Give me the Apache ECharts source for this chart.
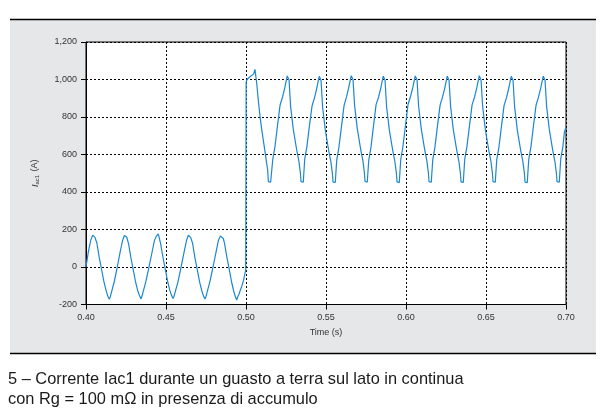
<!DOCTYPE html>
<html>
<head>
<meta charset="utf-8">
<script src="https://cdn.jsdelivr.net/npm/echarts@6/dist/echarts.min.js"></script>
<style>html,body{margin:0;padding:0;background:#fff}#c{width:606px;height:414px}</style>
</head>
<body>
<div id="c"></div>
<script>
// Tick settings
var xTicks = [0.40, 0.45, 0.50, 0.55, 0.60, 0.65, 0.70];
var yTicks = [-200, 0, 200, 400, 600, 800, 1000, 1200];

// Pre-fault current Iac1 (t [s], A)
var preFault = [
[0.4000,0],[0.4015,82],[0.4030,144],[0.4042,170],[0.4050,180],[0.4056,158],[0.4062,150],[0.4068,128],[0.4083,50],[0.4098,-16],[0.4112,-78],[0.4125,-123],[0.4136,-155],[0.4142,-160],[0.4146,-172],[0.4152,-158],[0.4160,-148],[0.4176,-80],[0.4192,-16],
[0.4213,78],[0.4228,140],[0.4240,168],[0.4248,178],[0.4254,160],[0.4260,152],[0.4266,125],[0.4281,48],[0.4296,-18],[0.4310,-80],[0.4323,-125],[0.4334,-152],[0.4340,-162],[0.4344,-170],[0.4350,-155],[0.4358,-146],[0.4374,-78],[0.4390,-15],
[0.4413,80],[0.4428,142],[0.4440,165],[0.4444,175],[0.4448,168],[0.4452,177],[0.4458,155],[0.4466,126],[0.4481,52],[0.4496,-14],[0.4510,-76],[0.4523,-122],[0.4534,-150],[0.4540,-158],[0.4544,-168],[0.4550,-156],[0.4558,-147],[0.4574,-82],[0.4590,-18],
[0.4613,79],[0.4628,141],[0.4640,169],[0.4648,179],[0.4654,158],[0.4660,150],[0.4666,127],[0.4681,49],[0.4696,-17],[0.4710,-79],[0.4723,-124],[0.4734,-154],[0.4740,-160],[0.4744,-171],[0.4750,-157],[0.4758,-148],[0.4774,-79],[0.4790,-16],
[0.4813,81],[0.4828,143],[0.4840,166],[0.4844,176],[0.4848,165],[0.4852,174],[0.4858,152],[0.4866,126],[0.4881,50],[0.4896,-15],[0.4910,-80],[0.4923,-128],[0.4934,-160],[0.4938,-170],[0.4942,-176],[0.4948,-160],[0.4956,-145],[0.4966,-120],[0.4973,-105],[0.4985,-70],[0.4994,-32],[0.4998,-20]
];

// Post-fault current Iac1 (t [s], A)
var postFault = [
[0.5001,985],[0.5006,1000],[0.5014,1006],[0.5025,1015],[0.5036,1024],[0.5048,1030],[0.5056,1054],[0.5061,1020],[0.5067,980],[0.5078,880],[0.5088,802],[0.5098,735],[0.5108,677],[0.5118,620],[0.5129,553],[0.5135,520],[0.5140,455],[0.5147,447],[0.5154,452],
[0.5167,571],[0.5181,642],[0.5196,748],[0.5213,864],[0.5229,908],[0.5244,962],[0.5254,1005],[0.5258,1019],[0.5269,997],[0.5279,855],[0.5296,731],[0.5317,624],[0.5331,562],[0.5340,500],[0.5344,455],[0.5351,447],[0.5358,452],
[0.5367,575],[0.5381,645],[0.5396,750],[0.5413,860],[0.5429,905],[0.5444,960],[0.5454,1003],[0.5458,1017],[0.5469,995],[0.5479,850],[0.5496,728],[0.5517,620],[0.5531,558],[0.5540,498],[0.5544,453],[0.5551,446],[0.5558,451],
[0.5567,570],[0.5581,640],[0.5596,745],[0.5613,862],[0.5629,910],[0.5644,965],[0.5654,1006],[0.5658,1020],[0.5669,998],[0.5679,858],[0.5696,735],[0.5717,626],[0.5731,565],[0.5740,502],[0.5744,456],[0.5751,448],[0.5758,453],
[0.5767,568],[0.5781,638],[0.5796,746],[0.5813,866],[0.5829,907],[0.5844,960],[0.5854,1004],[0.5858,1018],[0.5869,996],[0.5879,852],[0.5896,730],[0.5917,622],[0.5931,560],[0.5940,499],[0.5944,454],[0.5951,446],[0.5958,450],
[0.5967,572],[0.5981,644],[0.5996,750],[0.6013,868],[0.6029,912],[0.6044,963],[0.6054,1005],[0.6058,1019],[0.6069,997],[0.6079,856],[0.6096,733],[0.6117,625],[0.6131,563],[0.6140,501],[0.6144,455],[0.6151,447],[0.6158,452],
[0.6167,570],[0.6181,641],[0.6196,747],[0.6213,863],[0.6229,909],[0.6244,961],[0.6254,1004],[0.6258,1018],[0.6269,996],[0.6279,854],[0.6296,730],[0.6317,623],[0.6331,561],[0.6340,500],[0.6344,454],[0.6351,446],[0.6358,451],
[0.6367,574],[0.6381,643],[0.6396,749],[0.6413,865],[0.6429,908],[0.6444,962],[0.6454,1005],[0.6458,1020],[0.6469,998],[0.6479,857],[0.6496,732],[0.6517,624],[0.6531,562],[0.6540,501],[0.6544,455],[0.6551,447],[0.6558,452],
[0.6567,571],[0.6581,640],[0.6596,746],[0.6613,862],[0.6629,906],[0.6644,960],[0.6654,1003],[0.6658,1017],[0.6669,995],[0.6679,853],[0.6696,729],[0.6717,621],[0.6731,559],[0.6740,499],[0.6744,453],[0.6751,445],[0.6758,450],
[0.6767,573],[0.6781,642],[0.6796,748],[0.6813,864],[0.6829,909],[0.6844,962],[0.6854,1004],[0.6858,1018],[0.6869,996],[0.6879,855],[0.6896,731],[0.6917,623],[0.6931,561],[0.6940,500],[0.6944,455],[0.6951,447],[0.6958,452],
[0.6967,575],[0.6981,645],[0.6990,720],[0.7000,745]
];

var captionLines = [
  '5 – Corrente Iac1 durante un guasto a terra sul lato in continua',
  'con Rg = 100 mΩ in presenza di accumulo'
];

var chart = echarts.init(document.getElementById('c'), null, {renderer: 'canvas'});
var FONT = '"Liberation Sans", Arial, sans-serif';

chart.setOption({
  animation: false,
  backgroundColor: '#fff',
  graphic: [
    {type: 'rect', z: -10, silent: true, shape: {x: 10, y: 20, width: 586, height: 333}, style: {fill: '#e6e7e9'}},
    {type: 'line', z: 10, silent: true, shape: {x1: 10, y1: 19.5, x2: 596, y2: 19.5}, style: {stroke: '#000', lineWidth: 1.5}},
    {type: 'line', z: 10, silent: true, shape: {x1: 10, y1: 353.5, x2: 596, y2: 353.5}, style: {stroke: '#000', lineWidth: 1.5}},
    {type: 'text', silent: true, left: 8, top: 369, style: {text: captionLines.join('\n'), font: '16.4px ' + FONT, fill: '#1a1a1a', lineHeight: 20}}
  ],
  grid: {left: 86, right: 40, top: 42, bottom: 109.5, show: true, backgroundColor: '#fff', borderColor: '#000', borderWidth: 1},
  xAxis: {
    type: 'value', min: xTicks[0], max: xTicks[xTicks.length - 1], interval: 0.05,
    name: 'Time (s)', nameLocation: 'middle', nameGap: 24,
    nameTextStyle: {fontFamily: FONT, fontSize: 9, color: '#333'},
    axisLine: {show: true, onZero: false, lineStyle: {color: '#000', width: 1}},
    axisTick: {show: true, length: 5, lineStyle: {color: '#000'}},
    axisLabel: {fontFamily: FONT, fontSize: 9, color: '#333', margin: 9,
      formatter: function (v) { return v.toFixed(2); }},
    splitLine: {show: true, lineStyle: {color: '#000', type: [2, 2], width: 1}}
  },
  yAxis: {
    type: 'value', min: yTicks[0], max: yTicks[yTicks.length - 1], interval: 200,
    name: '{i|I}{s|ac1}{n| (A)}', nameLocation: 'middle', nameGap: 46, nameRotate: 90,
    nameTextStyle: {fontFamily: FONT, fontSize: 9, color: '#333',
      rich: {
        i: {fontFamily: FONT, fontSize: 9, fontStyle: 'italic', color: '#333'},
        s: {fontFamily: FONT, fontSize: 6, color: '#333', verticalAlign: 'bottom', padding: [4, 1, 0, 0]},
        n: {fontFamily: FONT, fontSize: 9, color: '#333'}
      }},
    axisLine: {show: true, onZero: false, lineStyle: {color: '#000', width: 1}},
    axisTick: {show: true, length: 5, lineStyle: {color: '#000'}},
    axisLabel: {fontFamily: FONT, fontSize: 9, color: '#333', margin: 9,
      formatter: function (v) { return v.toLocaleString('en-US'); }},
    splitLine: {show: true, lineStyle: {color: '#000', type: [2, 2], width: 1}}
  },
  series: [{
    type: 'line', showSymbol: false, symbol: 'none',
    data: preFault.concat(postFault),
    lineStyle: {color: '#1b87d2', width: 1.2},
    clip: true
  }]
});
</script>
</body>
</html>
